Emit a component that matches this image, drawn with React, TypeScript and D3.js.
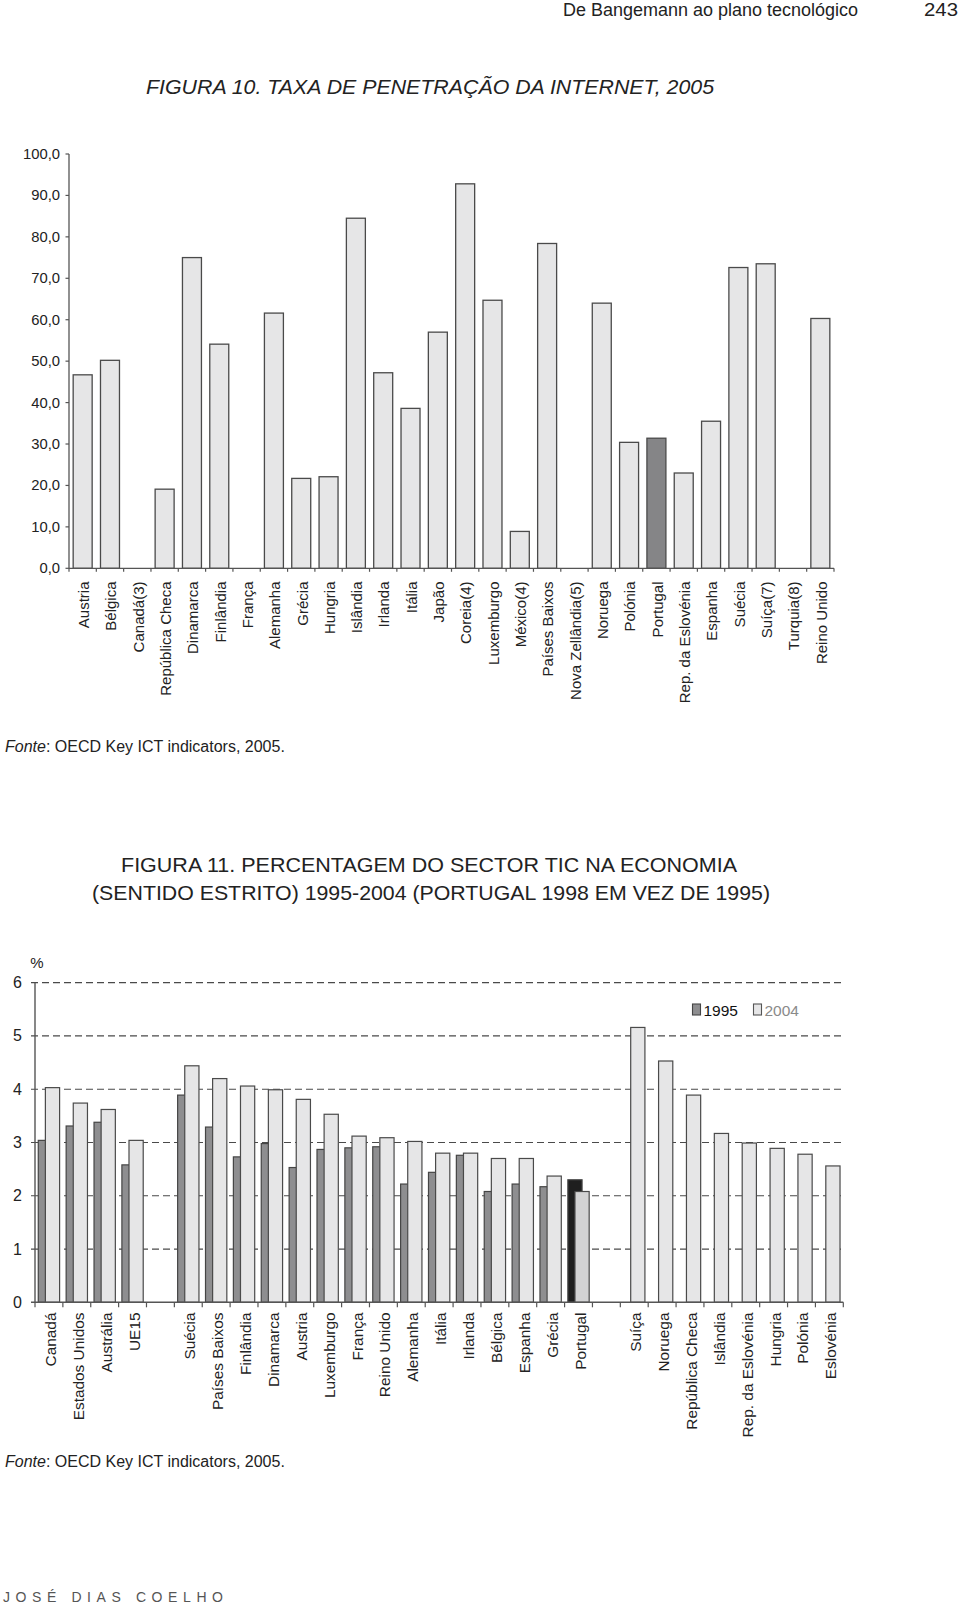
import React from "react";
import * as d3 from "d3";

// ---------- Figure 10 data ----------
const countries1 = [
  "Austria", "Bélgica", "Canadá(3)", "República Checa", "Dinamarca", "Finlândia", "França",
  "Alemanha", "Grécia", "Hungria", "Islândia", "Irlanda", "Itália", "Japão", "Coreia(4)",
  "Luxemburgo", "México(4)", "Países Baixos", "Nova Zellândia(5)", "Noruega", "Polónia",
  "Portugal", "Rep. da Eslovénia", "Espanha", "Suécia", "Suíça(7)", "Turquia(8)", "Reino Unido",
];
const penetration2005: (number | null)[] = [
  46.7, 50.2, null, 19.1, 75.0, 54.1, null,
  61.6, 21.7, 22.1, 84.5, 47.2, 38.6, 57.0, 92.8,
  64.7, 8.9, 78.4, null, 64.0, 30.4,
  31.4, 23.0, 35.5, 72.6, 73.5, null, 60.3,
];
const yTicks1 = [0, 10, 20, 30, 40, 50, 60, 70, 80, 90, 100];
const highlight1 = "Portugal";

// ---------- Figure 11 data ----------
const countries2 = [
  "Canadá", "Estados Unidos", "Austrália", "UE15", "",
  "Suécia", "Países Baixos", "Finlândia", "Dinamarca", "Austria", "Luxemburgo", "França",
  "Reino Unido", "Alemanha", "Itália", "Irlanda", "Bélgica", "Espanha", "Grécia", "Portugal", "",
  "Suíça", "Noruega", "República Checa", "Islândia", "Rep. da Eslovénia", "Hungria", "Polónia", "Eslovénia",
];
const ict1995: (number | null)[] = [
  3.04, 3.31, 3.38, 2.58, null,
  3.89, 3.29, 2.73, 2.98, 2.53, 2.87, 2.90,
  2.92, 2.22, 2.44, 2.76, 2.08, 2.22, 2.17, 2.30, null,
  null, null, null, null, null, null, null, null,
];
const ict2004: (number | null)[] = [
  4.03, 3.74, 3.62, 3.04, null,
  4.44, 4.20, 4.06, 3.99, 3.81, 3.53, 3.12,
  3.09, 3.02, 2.80, 2.80, 2.70, 2.70, 2.37, 2.08, null,
  5.16, 4.53, 3.89, 3.17, 2.99, 2.89, 2.78, 2.56,
];
const yTicks2 = [0, 1, 2, 3, 4, 5, 6];
const seriesNames = ["1995", "2004"];
const highlight2 = "Portugal";

const FONT = "'Liberation Sans', Arial, Helvetica, sans-serif";
const TEXT = "#222";
const AXIS = "#555";

function Figure10() {
  const x = d3.scaleBand<number>()
    .domain(countries1.map((_, i) => i))
    .range([69, 834])
    .paddingInner(0.305)
    .paddingOuter(0.1525);
  const xt = d3.scaleBand<number>().domain(countries1.map((_, i) => i)).range([69, 834]);
  const y = d3.scaleLinear().domain([0, 100]).range([568.3, 154]);
  const fmt = (v: number) => d3.format(".1f")(v).replace(".", ",");
  const y0 = y(0);
  return (
    <g fontFamily={FONT}>
      {countries1.map((c, i) => {
        const v = penetration2005[i];
        if (v == null) return null;
        return (
          <rect key={c} x={x(i)} y={y(v)} width={x.bandwidth()} height={y0 - y(v)}
            fill={c === highlight1 ? "#858587" : "#e6e6e7"} stroke="#4a4a4a" strokeWidth={1.3} />
        );
      })}
      {/* y axis */}
      <line x1={69} x2={69} y1={y(100)} y2={y0} stroke={AXIS} strokeWidth={1.3} />
      {yTicks1.map((t) => (
        <g key={t}>
          <line x1={65.5} x2={69} y1={y(t)} y2={y(t)} stroke={AXIS} strokeWidth={1.2} />
          <text x={60} y={y(t)} textAnchor="end" dominantBaseline="central" fontSize={14.8} fill={TEXT}>{fmt(t)}</text>
        </g>
      ))}
      {/* x axis */}
      <line x1={69} x2={834} y1={y0} y2={y0} stroke={AXIS} strokeWidth={1.3} />
      {countries1.map((c, i) => (
        <line key={"t" + i} x1={xt(i)!} x2={xt(i)!} y1={y0} y2={y0 + 3.5} stroke={AXIS} strokeWidth={1.2} />
      ))}
      <line x1={834} x2={834} y1={y0} y2={y0 + 3.5} stroke={AXIS} strokeWidth={1.2} />
      {countries1.map((c, i) => (
        <text key={"l" + i} transform={`translate(${xt(i)! + xt.bandwidth() / 2 + 0.8},${581.5}) rotate(-90)`}
          textAnchor="end" dominantBaseline="central" fontSize={15} fill={TEXT}>{c}</text>
      ))}
    </g>
  );
}

function Figure11() {
  const x = d3.scaleBand<number>().domain(countries2.map((_, i) => i)).range([35, 843.3]);
  const step = x.bandwidth();
  const w = step * 0.51;
  const off1 = (step - 1.5 * w) / 2;
  const off2 = off1 + w / 2;
  const y = d3.scaleLinear().domain([0, 6]).range([1302.3, 982.7]);
  const y0 = y(0);
  return (
    <g fontFamily={FONT}>
      {/* grid */}
      {yTicks2.filter((t) => t > 0).map((t) => (
        <line key={"g" + t} x1={31} x2={843.3} y1={y(t)} y2={y(t)} stroke="#4a4a4a" strokeWidth={1.2} strokeDasharray="7,4" />
      ))}
      {/* 1995 */}
      {countries2.map((c, i) => {
        const v = ict1995[i];
        if (v == null) return null;
        return (
          <rect key={"a" + i} x={x(i)! + off1} y={y(v)} width={w} height={y0 - y(v)}
            fill={c === highlight2 ? "#1f1f1f" : "#8e8e90"} stroke="#454545" strokeWidth={1.2} />
        );
      })}
      {/* 2004 */}
      {countries2.map((c, i) => {
        const v = ict2004[i];
        if (v == null) return null;
        return (
          <rect key={"b" + i} x={x(i)! + off2} y={y(v)} width={w} height={y0 - y(v)}
            fill={c === highlight2 ? "#d3d3d4" : "#e6e6e7"} stroke="#4a4a4a" strokeWidth={1.2} />
        );
      })}
      {/* y axis */}
      <line x1={35} x2={35} y1={y(6)} y2={y0} stroke={AXIS} strokeWidth={1.4} />
      {yTicks2.map((t) => (
        <text key={"y" + t} x={22} y={y(t)} textAnchor="end" dominantBaseline="central" fontSize={16} fill={TEXT}>{t}</text>
      ))}
      <text x={37} y={962} textAnchor="middle" dominantBaseline="central" fontSize={15} fill={TEXT}>%</text>
      {/* x axis */}
      <line x1={31} x2={843.3} y1={y0} y2={y0} stroke={AXIS} strokeWidth={1.4} />
      {countries2.map((c, i) => (
        <line key={"t" + i} x1={x(i)!} x2={x(i)!} y1={y0} y2={y0 + 5} stroke={AXIS} strokeWidth={1.2} />
      ))}
      <line x1={843.3} x2={843.3} y1={y0} y2={y0 + 5} stroke={AXIS} strokeWidth={1.2} />
      {countries2.map((c, i) => c ? (
        <text key={"l" + i} transform={`translate(${x(i)! + step / 2 + 1.5},${1312.5}) rotate(-90)`}
          textAnchor="end" dominantBaseline="central" fontSize={15.4} fill={TEXT}>{c}</text>
      ) : null)}
      {/* legend */}
      <rect x={692.5} y={1004} width={8} height={11} fill="#8e8e90" stroke="#454545" strokeWidth={1.1} />
      <text x={703.5} y={1010} dominantBaseline="central" fontSize={15.5} fill="#111">{seriesNames[0]}</text>
      <rect x={753.5} y={1004} width={8} height={11} fill="#e6e6e7" stroke="#555" strokeWidth={1.1} />
      <text x={764.5} y={1010} dominantBaseline="central" fontSize={15.5} fill="#8a8a8a">{seriesNames[1]}</text>
    </g>
  );
}

export default function App() {
  return (
    <svg width={960} height={1605} viewBox="0 0 960 1605"
      style={{ position: "absolute", left: 0, top: 0, background: "#fff" }}>
      <rect x={0} y={0} width={960} height={1605} fill="#fff" />
      <g fontFamily={FONT} fill={TEXT}>
        <text x={563} y={16} fontSize={17.5} textLength={295} lengthAdjust="spacingAndGlyphs">De Bangemann ao plano tecnológico</text>
        <text x={924} y={16} fontSize={18} textLength={34} lengthAdjust="spacingAndGlyphs">243</text>
        <text x={146} y={94} fontSize={21} fontStyle="italic" textLength={568} lengthAdjust="spacingAndGlyphs">FIGURA 10. TAXA DE PENETRAÇÃO DA INTERNET, 2005</text>
        <text x={5} y={752} fontSize={16}><tspan fontStyle="italic">Fonte</tspan>: OECD Key ICT indicators, 2005.</text>
        <text x={121} y={872} fontSize={21} textLength={616} lengthAdjust="spacingAndGlyphs">FIGURA 11. PERCENTAGEM DO SECTOR TIC NA ECONOMIA</text>
        <text x={92} y={900} fontSize={21} textLength={678} lengthAdjust="spacingAndGlyphs">(SENTIDO ESTRITO) 1995-2004 (PORTUGAL 1998 EM VEZ DE 1995)</text>
        <text x={5} y={1467} fontSize={16}><tspan fontStyle="italic">Fonte</tspan>: OECD Key ICT indicators, 2005.</text>
        <text x={3} y={1602} fontSize={14} fill="#555" textLength={220} lengthAdjust="spacing">JOSÉ DIAS COELHO</text>
      </g>
      <Figure10 />
      <Figure11 />
    </svg>
  );
}
